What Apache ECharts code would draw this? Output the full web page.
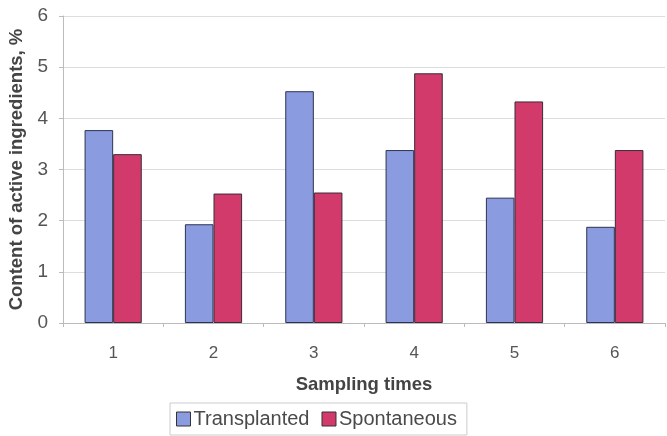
<!DOCTYPE html>
<html><head><meta charset="utf-8">
<script src="https://cdn.jsdelivr.net/npm/echarts@6/dist/echarts.min.js"></script>
<style>html,body{margin:0;padding:0;background:#fff}#c{width:667px;height:436px}</style>
</head><body><div id="c"></div>
<script>
const categories = ['1','2','3','4','5','6'];
const transplanted = [3.77, 1.93, 4.53, 3.38, 2.45, 1.88];
const spontaneous = [3.30, 2.53, 2.55, 4.88, 4.33, 3.38];
const yTicks = [0,1,2,3,4,5,6];

const chart = echarts.init(document.getElementById('c'));
chart.setOption({
  animation: false,
  backgroundColor: '#fff',
  grid: { left: 63, right: 2, top: 16, bottom: 113, containLabel: false, outerBoundsMode: 'none' },
  legend: {
    bottom: 1, left: 170,
    data: ['Transplanted', 'Spontaneous'],
    icon: 'rect',
    itemWidth: 14, itemHeight: 14, itemGap: 12,
    borderColor: '#ccc', borderWidth: 1, padding: [6, 10, 6, 6],
    itemStyle: { borderColor: '#333', borderWidth: 1 },
    textStyle: { fontFamily: 'Liberation Sans, Arial', fontSize: 20, color: '#4a4a4a', padding: [0,0,0,-2] }
  },
  xAxis: {
    type: 'category', data: categories,
    name: 'Sampling times', nameLocation: 'middle', nameGap: 52,
    nameTextStyle: { fontFamily: 'Liberation Sans, Arial', fontWeight: 'bold', fontSize: 18.5, color: '#444' },
    axisLine: { lineStyle: { color: '#bbb' } },
    axisTick: { show: true, alignWithLabel: false, length: 4, lineStyle: { color: '#bbb' } },
    axisLabel: { fontFamily: 'Liberation Sans, Arial', fontSize: 17, color: '#555', margin: 22 }
  },
  yAxis: {
    type: 'value', min: 0, max: 6, interval: 1,
    name: 'Content of active ingredients, %', nameLocation: 'middle', nameGap: 36,
    nameTextStyle: { fontFamily: 'Liberation Sans, Arial', fontWeight: 'bold', fontSize: 18.5, color: '#444' },
    axisLine: { show: true, lineStyle: { color: '#bbb' } },
    axisTick: { show: true, length: 4, lineStyle: { color: '#bbb' } },
    axisLabel: { fontFamily: 'Liberation Sans, Arial', fontSize: 19, color: '#555', margin: 15,
      formatter: v => yTicks.includes(v) ? String(v) : '' },
    splitLine: { lineStyle: { color: '#ddd' } }
  },
  series: [
    { name: 'Transplanted', type: 'bar', data: transplanted, barGap: '0%', barCategoryGap: '43%',
      itemStyle: { color: '#8a9be0', borderColor: '#2e3352', borderWidth: 1 } },
    { name: 'Spontaneous', type: 'bar', data: spontaneous, barGap: '0%', barCategoryGap: '43%',
      itemStyle: { color: '#d33a6c', borderColor: '#3a2a3a', borderWidth: 1 } }
  ]
});
</script></body></html>
